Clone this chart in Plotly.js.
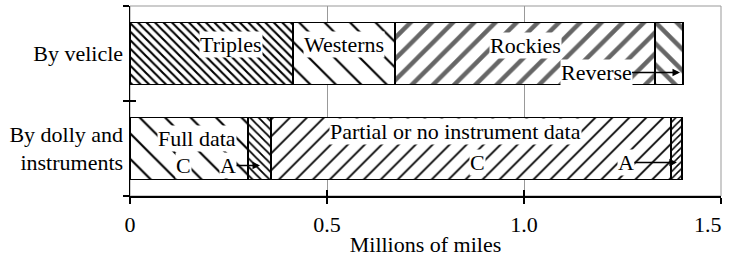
<!DOCTYPE html>
<html><head><meta charset="utf-8">
<script src="https://cdn.plot.ly/plotly-3.0.1.min.js"></script>
<style>html,body{margin:0;padding:0;background:#fff}#chart{width:732px;height:261px}</style>
</head><body><div id="chart"></div>
<script>
const categories = ['By dolly and<br>instruments', 'By velicle'];
// top bar (by vehicle)
const triples  = [null, 0.414];
const westerns = [null, 0.259];
const rockies  = [null, 0.659];
const reverse  = [null, 0.071];
// bottom bar (by dolly and instruments)
const fullC    = [0.300, null];
const fullA    = [0.058, null];
const partialC = [1.015, null];
const partialA = [0.028, null];
const xTickVals = [0, 0.5, 1.0, 1.5];
const xTickText = ['0', '0.5', '1.0', ''];
const lastTickLabel = '1.5';

const FONT = 'Liberation Serif';
const FS = 22;
function seg(name, vals, shape, size, sol, fg) {
  return {type:'bar', orientation:'h', name:name, y:categories, x:vals, width:0.65,
    marker:{color:'white', line:{color:'black', width:1.5},
      pattern:{shape:shape, size:size, solidity:sol, fgcolor:fg, bgcolor:'white', fillmode:'replace'}},
    hoverinfo:'skip', showlegend:false};
}
const data = [
  seg('Triples', triples, '\\', 6, 0.35, 'black'),
  seg('Westerns', westerns, '\\', 18, 0.12, 'black'),
  seg('Rockies', rockies, '/', 15, 0.3, '#666'),
  seg('Reverse', reverse, '\\', 15, 0.3, '#666'),
  seg('Full C', fullC, '\\', 18, 0.12, 'black'),
  seg('Full A', fullA, '\\', 6, 0.3, 'black'),
  seg('Partial C', partialC, '/', 12, 0.15, 'black'),
  seg('Partial A', partialA, '/', 5, 0.3, 'black')
];
function lab(text, x, y, ys, extra) {
  return Object.assign({text:text, x:x, y:y, xref:'x', yref:'y', yshift:ys, showarrow:false,
    bgcolor:'white', borderpad:0, font:{family:FONT, size:FS, color:'black'}}, extra||{});
}
function arr(text, x, y, ys, ax) {
  return lab(text, x, y, ys, {showarrow:true, ax:ax, ay:0, arrowhead:2, arrowsize:1, arrowwidth:1.5, arrowcolor:'black', standoff:0});
}
const layout = {
  width:732, height:261, margin:{l:130, r:11, t:6, b:65},
  paper_bgcolor:'white', plot_bgcolor:'white', barmode:'stack',
  font:{family:FONT, size:FS, color:'black'},
  xaxis:{range:[0,1.5], tickvals:xTickVals, ticktext:xTickText, showgrid:true, gridcolor:'#999', gridwidth:1,
    zeroline:false, showline:true, linecolor:'black', linewidth:1.5, ticks:'outside', ticklen:6, tickcolor:'black',
    tickwidth:1.5, ticklabelstandoff:2, tickfont:{family:FONT, size:FS},
    title:{text:'Millions of miles', standoff:0, font:{family:FONT, size:FS}}},
  xaxis2:{overlaying:'x', matches:'x', anchor:'y', side:'bottom', range:[0,1.5], tickvals:xTickVals, showticklabels:false,
    ticks:'inside', ticklen:6, tickcolor:'black', tickwidth:1.5, showgrid:false, zeroline:false, showline:false},
  yaxis:{type:'category', categoryarray:categories, range:[-0.5,1.5], showline:true, linecolor:'black', linewidth:1.5,
    ticks:'outside', tickson:'boundaries', ticklen:6, tickcolor:'black', tickwidth:1.5, showgrid:false, ticklabelstandoff:1,
    tickfont:{family:FONT, size:FS}},
  yaxis2:{overlaying:'y', anchor:'x', type:'linear', range:[-0.5,1.5], tickvals:[-0.5,0.5,1.5], showticklabels:false,
    ticks:'inside', ticklen:6, tickcolor:'black', tickwidth:1.5, showgrid:false, zeroline:false, showline:false},
  shapes:[{type:'rect', xref:'paper', yref:'paper', x0:0, x1:1, y0:0, y1:1, line:{color:'#999', width:1}, layer:'below'}],
  annotations:[
    lab('Triples', 0.256, 1, 9),
    lab('Westerns', 0.543, 1, 9),
    lab('Rockies', 1.005, 1, 8),
    arr('Reverse', 1.396, 1, -19, -84),
    lab('Full data', 0.170, 0, 10),
    lab('C', 0.137, 0, -17),
    arr('A', 0.330, 0, -17, -32),
    lab('Partial or no instrument data', 0.825, 0, 17),
    lab('C', 0.881, 0, -14),
    arr('A', 1.388, 0, -14, -51),
    {text:lastTickLabel, x:1.5, xref:'x', y:0, yref:'paper', xanchor:'right', yanchor:'top', xshift:3, yshift:-14,
     showarrow:false, font:{family:FONT, size:FS, color:'black'}}
  ]
};
data.push({type:'scatter', x:[0], y:[0], xaxis:'x2', yaxis:'y2', mode:'none', hoverinfo:'skip', showlegend:false});
Plotly.newPlot('chart', data, layout, {displayModeBar:false, staticPlot:true});
</script></body></html>
